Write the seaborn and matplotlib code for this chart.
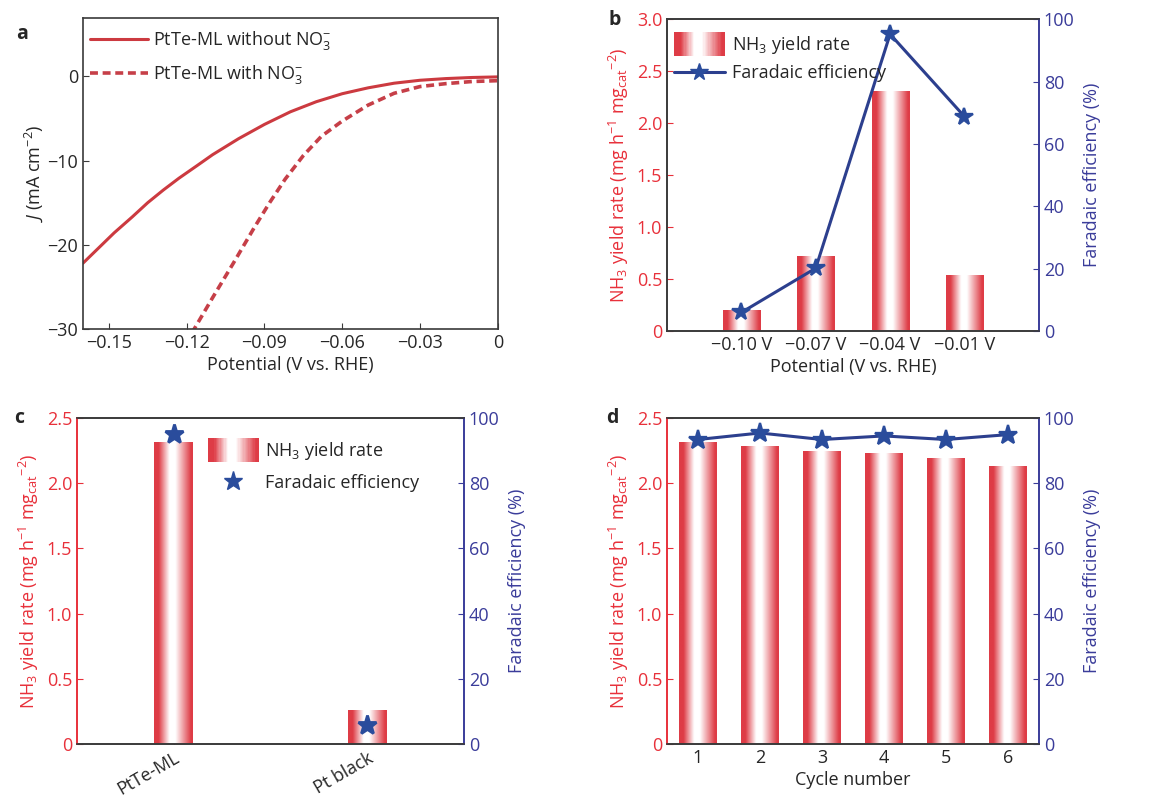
import numpy as np
import pandas as pd
import matplotlib
matplotlib.use("Agg")
import matplotlib.pyplot as plt
import seaborn as sns
from matplotlib.colors import LinearSegmentedColormap
from matplotlib.legend_handler import HandlerBase
from matplotlib.patches import Rectangle
from matplotlib.lines import Line2D

# ---------------- data ----------------
# a: LSV curves
pot_without = [-0.16, -0.154, -0.148, -0.141, -0.135, -0.129, -0.123, -0.116,
               -0.110, -0.100, -0.090, -0.080, -0.070, -0.060, -0.050, -0.040,
               -0.030, -0.020, -0.010, 0.0]
j_without = [-22.2, -20.4, -18.6, -16.7, -15.0, -13.5, -12.1, -10.6,
             -9.3, -7.4, -5.7, -4.2, -3.0, -2.05, -1.35, -0.8,
             -0.45, -0.25, -0.12, -0.05]
pot_with = [-0.118, -0.110, -0.102, -0.094, -0.088, -0.082, -0.075, -0.068,
            -0.060, -0.050, -0.040, -0.030, -0.020, -0.010, 0.0]
j_with = [-30.5, -26.3, -22.2, -18.0, -15.0, -12.2, -9.4, -7.1,
          -5.3, -3.4, -2.0, -1.2, -0.85, -0.6, -0.5]

# b: potential dependence
pot_labels_b = ["\u22120.10 V", "\u22120.07 V", "\u22120.04 V", "\u22120.01 V"]
yield_b = [0.195, 0.72, 2.30, 0.53]
fe_b = [6.0, 20.2, 95.2, 68.8]

# c: catalyst comparison
cat_c = ["PtTe-ML", "Pt black"]
yield_c = [2.31, 0.255]
fe_c = [95.0, 5.8]

# d: cycling
cycles_d = ["1", "2", "3", "4", "5", "6"]
yield_d = [2.31, 2.28, 2.24, 2.23, 2.19, 2.125]
fe_d = [93.4, 95.4, 93.4, 94.5, 93.4, 94.9]

# ---------------- style ----------------
sns.set_style("ticks")
plt.rcParams["font.family"] = ["Open Sans", "DejaVu Sans"]
plt.rcParams["mathtext.fontset"] = "custom"
plt.rcParams["mathtext.rm"] = "Open Sans"
plt.rcParams["mathtext.it"] = "Open Sans:italic"
plt.rcParams["mathtext.bf"] = "Open Sans:bold"
plt.rcParams["mathtext.default"] = "rm"
plt.rcParams["font.size"] = 13

RED_LINE = "#cc3a40"
RED_DASH = "#c63f48"
RED_TXT = "#e8303a"
BAR_RED = "#de3c46"
BLUE_LINE = "#2c3f8e"
BLUE_STAR = "#2a4c9c"
BLUE_TXT = "#3a3c9a"
DARK = "#3a3a3a"

bar_cmap = LinearSegmentedColormap.from_list(
    "barshade",
    [(0.0, BAR_RED), (0.12, BAR_RED), (0.40, "white"), (0.55, "white"),
     (0.95, BAR_RED), (1.0, BAR_RED)])
grad = np.linspace(0, 1, 256).reshape(1, -1)

YL = "NH$_3$ yield rate (mg h$^{-1}$ mg$_{cat}$$^{-2}$)"
YR = "Faradaic efficiency (%)"


class GradientHandler(HandlerBase):
    # legend swatch with the same red-white-red shading as the bars
    def create_artists(self, legend, orig_handle, xdescent, ydescent,
                       width, height, fontsize, trans):
        n = 40
        arts = []
        for i in range(n):
            r = Rectangle((-xdescent + width * i / n, -ydescent - 0.45 * height),
                          width / n * 1.15, height * 1.9,
                          facecolor=bar_cmap((i + 0.5) / n), edgecolor="none",
                          transform=trans)
            arts.append(r)
        return arts


def shade_bars(ax):
    for p in list(ax.patches):
        x, y, w, h = p.get_x(), p.get_y(), p.get_width(), p.get_height()
        ax.imshow(grad, cmap=bar_cmap, extent=[x, x + w, y, y + h],
                  aspect="auto", interpolation="bilinear", zorder=2)
        p.set_visible(False)


def style_twin(ax, ax2, left_col):
    for s in ["top", "bottom"]:
        ax.spines[s].set_color(DARK)
        ax2.spines[s].set_color(DARK)
    ax.spines["left"].set_color(left_col)
    ax2.spines["left"].set_color(left_col)
    ax2.spines["right"].set_color(BLUE_TXT)
    ax.spines["right"].set_color(BLUE_TXT)
    for s in ax.spines.values():
        s.set_linewidth(1.2)
    for s in ax2.spines.values():
        s.set_linewidth(1.2)
    ax.tick_params(axis="y", direction="in", colors=RED_TXT, length=4, labelsize=13)
    ax.tick_params(axis="x", direction="in", color=DARK, length=4, labelsize=13)
    ax2.tick_params(axis="y", direction="in", colors=BLUE_TXT, length=4, labelsize=13)
    ax.set_ylabel(YL, color=RED_TXT, fontsize=13, labelpad=4)
    ax2.set_ylabel(YR, color=BLUE_TXT, fontsize=13, labelpad=6)
    ax2.set_ylim(0, 100)
    ax2.set_yticks([0, 20, 40, 60, 80, 100])


def fmt_left(v, pos):
    return "0" if v == 0 else f"{v:.1f}"


fig = plt.figure(figsize=(11.62, 8), dpi=100)

# ---------------- panel a ----------------
axa = fig.add_axes([0.0714, 0.589, 0.357, 0.389])
sns.lineplot(x=pot_without, y=j_without, ax=axa, color=RED_LINE, lw=2.2,
             label="PtTe-ML without NO$_3^{-}$")
sns.lineplot(x=pot_with, y=j_with, ax=axa, color=RED_DASH, lw=2.6,
             label="PtTe-ML with NO$_3^{-}$")
axa.lines[1].set_dashes((2.2, 1.3))
axa.set_xlim(-0.16, 0)
axa.set_ylim(-30, 7)
axa.set_xticks([-0.15, -0.12, -0.09, -0.06, -0.03, 0])
axa.set_xticklabels(["\u22120.15", "\u22120.12", "\u22120.09", "\u22120.06", "\u22120.03", "0"])
axa.set_yticks([-30, -20, -10, 0])
axa.tick_params(direction="in", length=4, labelsize=13, color=DARK)
for s in axa.spines.values():
    s.set_color(DARK)
    s.set_linewidth(1.2)
axa.set_xlabel("Potential (V vs. RHE)", fontsize=13, labelpad=3)
axa.set_ylabel("$\\it{J}$ (mA cm$^{-2}$)", fontsize=13, labelpad=2)
axa.legend(loc="upper left", frameon=False, fontsize=13, handlelength=3.2,
           borderaxespad=0.0, labelspacing=0.6, handletextpad=0.3,
           bbox_to_anchor=(0.0, 0.985))

# ---------------- panel b ----------------
axb = fig.add_axes([0.574, 0.586, 0.320, 0.390])
sns.barplot(x=pot_labels_b, y=yield_b, ax=axb, width=0.5, color=BAR_RED)
shade_bars(axb)
axb2 = axb.twinx()
sns.pointplot(x=pot_labels_b, y=fe_b, ax=axb2, color=BLUE_LINE, errorbar=None,
              marker="*", markersize=13, markerfacecolor=BLUE_STAR,
              markeredgecolor=BLUE_STAR, linewidth=2.2)
axb.set_xlim(-1, 4)
axb.set_ylim(0, 3.0)
axb.set_yticks([0, 0.5, 1.0, 1.5, 2.0, 2.5, 3.0])
axb.yaxis.set_major_formatter(plt.FuncFormatter(fmt_left))
style_twin(axb, axb2, DARK)
axb.set_xlabel("Potential (V vs. RHE)", fontsize=13, labelpad=3)
axb2.set_xlim(-1, 4)
bar_proxy = Rectangle((0, 0), 1, 1)
fe_line = Line2D([], [], color=BLUE_LINE, lw=2.2, marker="*", markersize=13,
                 markerfacecolor=BLUE_STAR, markeredgecolor=BLUE_STAR)
axb2.legend([bar_proxy, fe_line], ["NH$_3$ yield rate", "Faradaic efficiency"],
            handler_map={bar_proxy: GradientHandler()}, loc="upper left",
            frameon=False, fontsize=13, handlelength=2.8, borderaxespad=0.0,
            labelspacing=0.45, handletextpad=0.4, bbox_to_anchor=(0.0, 0.975))

# ---------------- panel c ----------------
axc = fig.add_axes([0.0663, 0.07, 0.333, 0.4075])
sns.barplot(x=cat_c, y=yield_c, ax=axc, width=0.2, color=BAR_RED)
shade_bars(axc)
axc2 = axc.twinx()
sns.pointplot(x=cat_c, y=fe_c, ax=axc2, color=BLUE_STAR, errorbar=None,
              marker="*", markersize=14, linestyle="none")
axc.set_xlim(-0.5, 1.5)
axc.set_ylim(0, 2.5)
axc.set_yticks([0, 0.5, 1.0, 1.5, 2.0, 2.5])
axc.yaxis.set_major_formatter(plt.FuncFormatter(fmt_left))
style_twin(axc, axc2, RED_TXT)
axc2.set_xlim(-0.5, 1.5)
axc.set_xlabel("")
plt.setp(axc.get_xticklabels(), rotation=30, ha="right", rotation_mode="anchor")
bar_proxy_c = Rectangle((0, 0), 1, 1)
fe_star = Line2D([], [], color=BLUE_STAR, ls="none", marker="*", markersize=14)
axc2.legend([bar_proxy_c, fe_star], ["NH$_3$ yield rate", "Faradaic efficiency"],
            handler_map={bar_proxy_c: GradientHandler()}, loc="upper left",
            frameon=False, fontsize=13, handlelength=2.8, borderaxespad=0.1,
            labelspacing=0.65, handletextpad=0.35, bbox_to_anchor=(0.315, 0.96))

# ---------------- panel d ----------------
axd = fig.add_axes([0.574, 0.07, 0.320, 0.4075])
sns.barplot(x=cycles_d, y=yield_d, ax=axd, width=0.6, color=BAR_RED)
shade_bars(axd)
axd2 = axd.twinx()
sns.pointplot(x=cycles_d, y=fe_d, ax=axd2, color=BLUE_LINE, errorbar=None,
              marker="*", markersize=14, markerfacecolor=BLUE_STAR,
              markeredgecolor=BLUE_STAR, linewidth=2.2)
axd.set_xlim(-0.5, 5.5)
axd.set_ylim(0, 2.5)
axd.set_yticks([0, 0.5, 1.0, 1.5, 2.0, 2.5])
axd.yaxis.set_major_formatter(plt.FuncFormatter(fmt_left))
style_twin(axd, axd2, RED_TXT)
axd2.set_xlim(-0.5, 5.5)
axd.set_xlabel("Cycle number", fontsize=13, labelpad=3)

# panel letters
for lab, x, y in [("a", 0.014, 0.958), ("b", 0.524, 0.975),
                  ("c", 0.012, 0.478), ("d", 0.522, 0.478)]:
    fig.text(x, y, lab, fontsize=14, fontweight="bold", va="center")

fig.savefig("out.png", dpi=100)
